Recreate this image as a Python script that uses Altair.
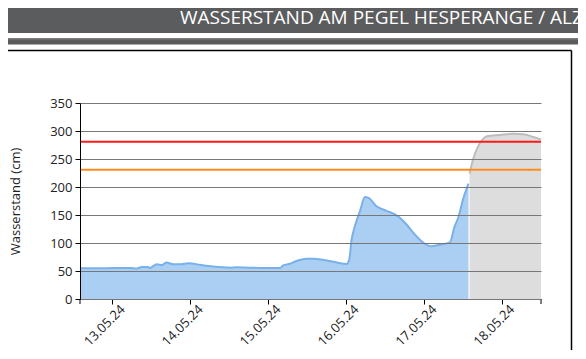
import altair as alt
import pandas as pd

# ---------------- data ----------------
meas_times = [
    "2024-05-12T14:00", "2024-05-12T20:45", "2024-05-13T05:30", "2024-05-13T07:30",
    "2024-05-13T09:00", "2024-05-13T11:00", "2024-05-13T11:30", "2024-05-13T13:40",
    "2024-05-13T15:10", "2024-05-13T16:40", "2024-05-13T18:45", "2024-05-13T20:50",
    "2024-05-13T23:25", "2024-05-14T03:00", "2024-05-14T07:00", "2024-05-14T12:15",
    "2024-05-14T14:15", "2024-05-14T21:25", "2024-05-15T03:35", "2024-05-15T04:35",
    "2024-05-15T06:40", "2024-05-15T08:15", "2024-05-15T11:50", "2024-05-15T13:50",
    "2024-05-15T20:00", "2024-05-16T00:08", "2024-05-16T00:55", "2024-05-16T01:40",
    "2024-05-16T02:40", "2024-05-16T04:15", "2024-05-16T05:45", "2024-05-16T06:45",
    "2024-05-16T09:20", "2024-05-16T12:25", "2024-05-16T16:00", "2024-05-16T18:35",
    "2024-05-16T21:10", "2024-05-16T23:40", "2024-05-17T02:15", "2024-05-17T04:50",
    "2024-05-17T07:55", "2024-05-17T09:25", "2024-05-17T10:30", "2024-05-17T12:00",
    "2024-05-17T13:40",
]
meas_values = [
    55, 55, 55.5, 54.5,
    57, 57, 55.5, 62,
    60.5, 65, 62, 62,
    64, 61, 58, 56,
    56.5, 55.5, 55.5, 60,
    63, 67, 72, 72,
    66.5, 62.5, 70, 106,
    130, 157, 182, 181,
    165.5, 157.5, 147.5, 133,
    115, 101, 94, 97,
    101, 130, 145, 178,
    206,
]
fc_times = [
    "2024-05-17T14:00", "2024-05-17T15:05", "2024-05-17T16:40", "2024-05-17T18:10",
    "2024-05-17T19:40", "2024-05-17T23:20", "2024-05-18T03:25", "2024-05-18T06:30",
    "2024-05-18T09:35", "2024-05-18T12:00",
]
fc_values = [224, 249.5, 273, 286, 291, 293, 295, 294, 289.5, 284.5]

threshold_values = [281, 231]
threshold_colors = ["#ff1a1a", "#ff8c1a"]

y_ticks = [0, 50, 100, 150, 200, 250, 300, 350]
x_tick_days = [13, 14, 15, 16, 17, 18]

header_title = "WASSERSTAND AM PEGEL HESPERANGE / ALZETTE"
y_title = "Wasserstand (cm)"

# ---------------- frames ----------------
meas = pd.DataFrame({"t": meas_times, "v": meas_values})
fc = pd.DataFrame({"t": fc_times, "v": fc_values})
thr = pd.DataFrame({"v": threshold_values, "c": threshold_colors})
one = pd.DataFrame({"k": [0]})

W, H = 461, 196
FONT = "Open Sans"
RIGHT_EDGE = 498  # plot-relative x of the drawing's right edge

xscale = alt.Scale(domain=[alt.DateTime(year=2024, month=5, date=12, hours=14),
                           alt.DateTime(year=2024, month=5, date=18, hours=12)])
xaxis = alt.Axis(values=[alt.DateTime(year=2024, month=5, date=d) for d in x_tick_days],
                 format="%d.%m.%y", labelAngle=315, labelAlign="right",
                 labelBaseline="middle", labelPadding=3, labelOffset=10,
                 title=None, grid=False, labelFontSize=13)
yscale = alt.Scale(domain=[0, 350], nice=False)
yaxis = alt.Axis(values=y_ticks, grid=True, gridColor="#777777", gridWidth=1,
                 zindex=1, title=y_title, titleFontSize=13, titleFontWeight="normal",
                 titleX=-58, titleY=98, titleAngle=270, titleBaseline="bottom",
                 titleAlign="center", labelFontSize=13, labelPadding=3)


def X():
    return alt.X("t:T", scale=xscale, axis=xaxis)


def Y():
    return alt.Y("v:Q", scale=yscale, axis=yaxis)


blue_area = alt.Chart(meas).mark_area(color="#abcff3", interpolate="monotone").encode(x=X(), y=Y())
blue_line = alt.Chart(meas).mark_line(color="#7ab0e9", strokeWidth=2, interpolate="monotone").encode(x=X(), y=Y())
gray_area = alt.Chart(fc).mark_area(color="#dddddd", interpolate="monotone").encode(x=X(), y=Y())
gray_line = alt.Chart(fc).mark_line(color="#bdbdbd", strokeWidth=2, interpolate="monotone").encode(x=X(), y=Y())
thr_rules = alt.Chart(thr).mark_rule(strokeWidth=2).encode(
    y=Y(), color=alt.Color("c:N", scale=None))

# decorations (header, separators, panel border, axis end ticks)
header = alt.Chart(one).mark_rect(color="#5b5c5e").encode(
    x=alt.value(-72), x2=alt.value(RIGHT_EDGE), y=alt.value(-95), y2=alt.value(-70))
sep_black = alt.Chart(one).mark_rect(color="#000000").encode(
    x=alt.value(-72), x2=alt.value(RIGHT_EDGE), y=alt.value(-64.5), y2=alt.value(-63.5))
sep_gray = alt.Chart(one).mark_rect(color="#5b5b5b").encode(
    x=alt.value(-72), x2=alt.value(RIGHT_EDGE), y=alt.value(-63.5), y2=alt.value(-58.5))
panel_top = alt.Chart(one).mark_rule(color="#000000", strokeWidth=1.5).encode(
    x=alt.value(-72), x2=alt.value(491.5), y=alt.value(-52.5))
panel_right = alt.Chart(one).mark_rule(color="#000000", strokeWidth=1.5).encode(
    x=alt.value(491.5), y=alt.value(-52.5), y2=alt.value(260))
title_text = alt.Chart(one).mark_text(
    align="left", baseline="alphabetic", font=FONT, fontSize=19, color="#ffffff").encode(
    x=alt.value(100), y=alt.value(-79), text=alt.value(header_title))
end_tick_l = alt.Chart(one).mark_rule(color="#000000").encode(
    x=alt.value(0), y=alt.value(H), y2=alt.value(H + 5))
end_tick_r = alt.Chart(one).mark_rule(color="#000000").encode(
    x=alt.value(W), y=alt.value(H), y2=alt.value(H + 5))

chart = alt.layer(
    header, sep_black, sep_gray, panel_top, panel_right, title_text,
    blue_area, gray_area, blue_line, gray_line, thr_rules, end_tick_l, end_tick_r,
).properties(
    width=W, height=H,
    autosize=alt.AutoSizeParams(type="none"),
    padding={"left": 72, "top": 95, "right": 37, "bottom": 51},
    background="#ffffff",
).configure_view(stroke=None).configure_axis(
    domainColor="#000000", tickColor="#000000", tickSize=5, domainWidth=1,
    labelFont=FONT, titleFont=FONT, labelColor="#222222", titleColor="#222222",
)

chart.save("out.html", embed_options={"renderer": "svg", "actions": False})
